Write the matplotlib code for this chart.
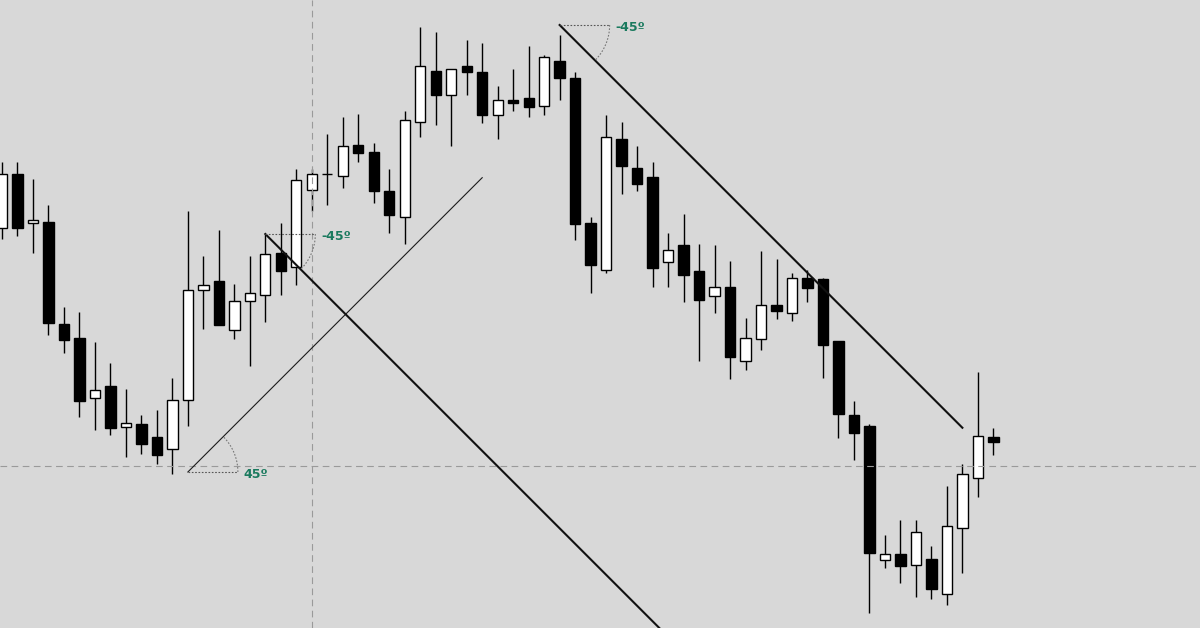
import numpy as np
import matplotlib
matplotlib.use("Agg")
import matplotlib.pyplot as plt

# candle data (arbitrary price units), one entry per bar
opens = [400, 454, 405, 406, 304, 290, 230, 242, 201, 204, 191, 179, 228, 338, 347,
         298, 327, 333, 375, 361, 438, 454, 452, 483, 476, 437, 411, 506, 557, 533,
         562, 556, 513, 528, 530, 522, 567, 550, 405, 358, 489, 460, 451, 366, 383,
         357, 332, 341, 267, 289, 323, 315, 350, 349, 287, 213, 202, 68, 74, 63,
         69, 34, 100, 150, 191]
highs = [466, 466, 449, 423, 321, 316, 286, 265, 239, 213, 218, 250, 417, 372, 398,
         344, 372, 394, 405, 459, 459, 494, 511, 514, 485, 459, 517, 601, 596, 559,
         588, 585, 542, 559, 582, 573, 593, 556, 411, 513, 506, 482, 466, 395, 414,
         384, 383, 367, 310, 377, 369, 355, 358, 350, 287, 227, 204, 93, 108, 108,
         82, 142, 164, 256, 200]
lows = [389, 392, 375, 293, 275, 211, 198, 193, 171, 174, 164, 154, 202, 299, 303,
        289, 262, 306, 333, 343, 417, 423, 440, 466, 425, 395, 384, 491, 503, 482,
        533, 505, 489, 517, 511, 513, 528, 388, 335, 355, 434, 437, 341, 341, 326,
        267, 315, 249, 258, 278, 309, 307, 326, 250, 190, 168, 15, 60, 45, 31,
        29, 23, 55, 131, 173]
closes = [454, 400, 408, 305, 288, 227, 238, 200, 205, 184, 173, 228, 338, 343, 303,
          327, 335, 374, 357, 448, 454, 454, 482, 475, 437, 413, 508, 562, 533, 559,
          556, 513, 528, 525, 521, 571, 550, 404, 363, 491, 462, 444, 360, 378, 353,
          328, 341, 271, 290, 323, 317, 350, 340, 283, 214, 195, 75, 74, 62, 96,
          39, 102, 154, 192, 186]

# 45 degree trend lines: start bar, start price, end bar, angle
trend_start_bar = [12, 17, 36]
trend_start_price = [156, 394, 603]
trend_end_bar = [31, 50, 62]
trend_angle = [45, -45, -45]
trend_label = ["45º", "-45º", "-45º"]

# crosshair
cross_bar = 20
cross_price = 162

W, H = 1200, 628
fig = plt.figure(figsize=(W / 100, H / 100), dpi=100)
fig.patch.set_facecolor("#d8d8d8")
ax = fig.add_axes([0, 0, 1, 1])
ax.set_facecolor("#d8d8d8")
ax.axis("off")

step = 15.49  # pixels per bar
x0 = 2.0
ax.set_xlim(-x0 / step, (W - x0) / step)
ax.set_ylim(0, H)

o = np.array(opens)
h = np.array(highs)
l = np.array(lows)
c = np.array(closes)
idx = np.arange(len(o))
up = c >= o

# wicks
ax.vlines(idx, l, h, color="black", lw=1.0, zorder=2)
# bodies
body_w = 10.3 / step
ax.bar(idx, np.abs(c - o), bottom=np.minimum(o, c), width=body_w,
       color=np.where(up, "white", "black"), edgecolor="black", lw=1.0, zorder=3)

# crosshair
ax.axvline(cross_bar, color="#9a9a9a", lw=0.8, dashes=(6, 4), zorder=5)
ax.axhline(cross_price, color="#9a9a9a", lw=0.8, dashes=(6, 4), zorder=5)

# pixel scale per data unit
sx = W / (ax.get_xlim()[1] - ax.get_xlim()[0])
sy = H / (ax.get_ylim()[1] - ax.get_ylim()[0])
r = 50  # arc radius in pixels

for k in range(len(trend_start_bar)):
    b0 = trend_start_bar[k]
    p0 = trend_start_price[k]
    b1 = trend_end_bar[k]
    ang = trend_angle[k]
    d = np.sign(ang)
    p1 = p0 + d * (b1 - b0) * sx / sy
    if ang > 0:
        ax.plot([b0, b1], [p0, p1], color="#1a1a1a", lw=0.8, zorder=6)
    else:
        ax.plot([b0, b1], [p0, p1], color="#111111", lw=1.5, zorder=6)

    # angle marker: dotted baseline + arc
    ax.plot([b0, b0 + r / sx], [p0, p0], color="#555555", lw=0.8,
            ls=(0, (1.5, 1.5)), zorder=6)
    t = np.radians(np.linspace(0, ang, 30))
    ax.plot(b0 + r * np.cos(t) / sx, p0 + r * np.sin(t) / sy, color="#777777",
            lw=0.8, ls=(0, (1.5, 1.5)), zorder=6)
    ax.annotate(trend_label[k], xy=(b0, p0), xytext=(40, -2),
                textcoords="offset points", ha="left", va="center",
                fontsize=9, fontweight="bold", color="#1a7a5e", zorder=7)

fig.savefig("out.png", dpi=100, facecolor=fig.get_facecolor())
